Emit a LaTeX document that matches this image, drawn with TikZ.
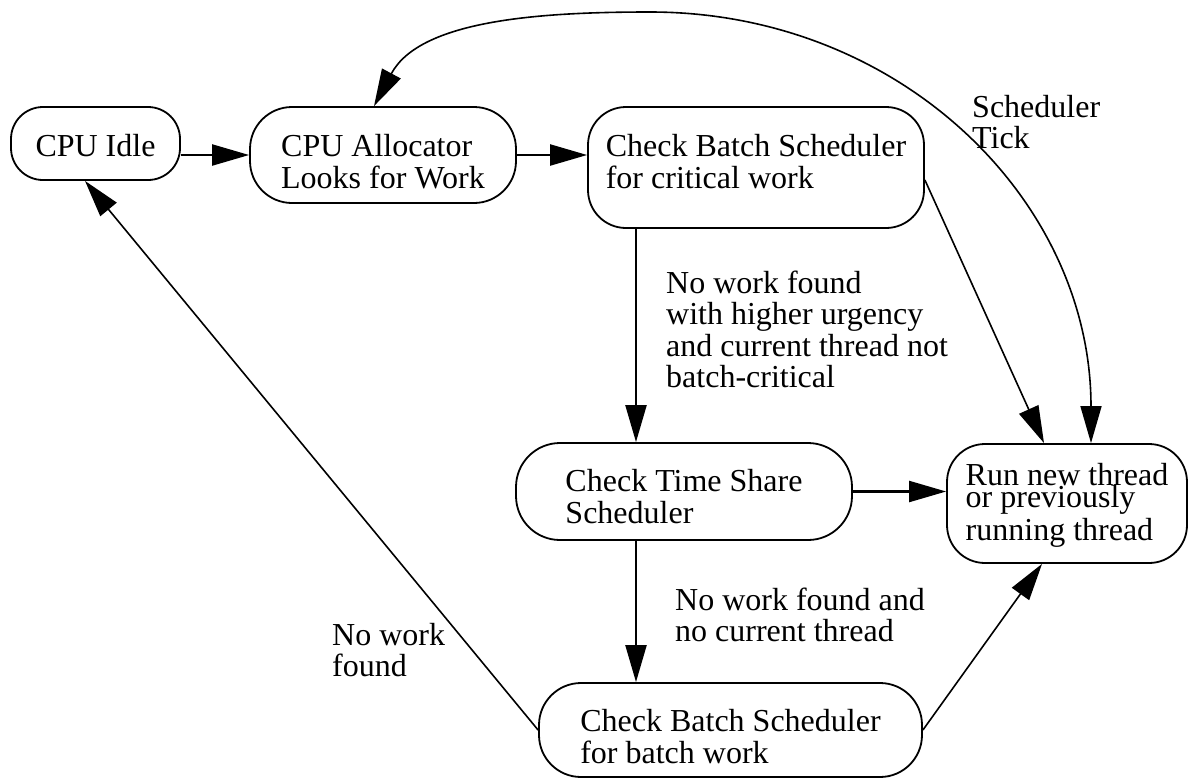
\documentclass[tikz,border=0pt]{standalone}
\usepackage{fontspec}
\setmainfont{Liberation Serif}
\usepackage{array}
\usetikzlibrary{arrows.meta}
\newcommand{\tl}[1]{\begin{tabular}[t]{@{}l@{}}#1\end{tabular}}
\begin{document}
\begin{tikzpicture}[x=1pt,y=-1pt,
  box/.style={draw,line width=1.8pt,inner sep=0pt,font=\fontsize{32}{32}\selectfont},
  lbl/.style={inner sep=0pt,anchor=base west,font=\fontsize{32}{31}\selectfont},
  arr/.style={line width=2.2pt,-{Triangle[length=37pt,width=21pt]}},
  darr/.style={line width=1.6pt,-{Triangle[length=37pt,width=21pt]}},
  curvearr/.style={line width=1.6pt,{Triangle[length=37pt,width=21pt]}-{Triangle[length=37pt,width=21pt]}}]
\useasboundingbox (0,0) rectangle (1189,777);

\node[box,minimum width=169pt,minimum height=73pt,rounded corners=32pt,text height=30pt,text depth=5pt] (idle) at (95.5,143.5) {\tl{CPU Idle}};
\node[box,minimum width=266pt,minimum height=96pt,rounded corners=42pt,text height=30pt,text depth=28pt] (alloc) at (383,155) {\tl{CPU Allocator\\Looks for Work}};
\node[box,minimum width=336pt,minimum height=121pt,rounded corners=38pt,text height=30pt,text depth=53pt] (crit) at (756,167.5) {\tl{Check Batch Scheduler\\for critical work}};
\node[box,minimum width=336pt,minimum height=97pt,rounded corners=44pt,text height=30pt,text depth=30pt] (ts) at (684,491.5) {\tl{Check Time Share\\Scheduler}};
\node[box,minimum width=240pt,minimum height=119pt,rounded corners=38pt,text height=30pt,text depth=67pt] (run) at (1067,503.5) {\tl{Run new thread\\[-10pt]or previously\\[1pt]running thread}};
\node[box,minimum width=383pt,minimum height=94pt,rounded corners=42pt,text height=30pt,text depth=27pt] (batch) at (730.5,730) {\tl{Check Batch Scheduler\\for batch work}};

\node[lbl,font=\fontsize{32}{30}\selectfont] (ticklbl) at (972,117) {\tl{Scheduler\\Tick}};
\node[lbl] (critlbl) at (666,293) {\tl{No work found\\with higher urgency\\and current thread not\\batch-critical}};
\node[lbl] (tslbl) at (675,610) {\tl{No work found and\\no current thread}};
\node[lbl] (idlelbl) at (332,645) {\tl{No work\\found}};

\draw[arr] (idle.east |- alloc.west) -- (alloc.west);
\draw[arr] (alloc.east) -- (crit.west |- alloc.east);
\draw[arr] ([xshift=-48pt]crit.south -| ts.north) -- ([xshift=-48pt]ts.north);
\draw[arr] ([xshift=-48pt]ts.south) -- ([xshift=-48pt]batch.north -| ts.south);
\draw[arr] (ts.east) -- (run.west |- ts.east);
\draw[darr] ([yshift=-12.5pt]crit.east) -- ([xshift=-23pt]run.north);
\draw[darr] (batch.east) -- ([xshift=-25pt]run.south);
\draw[darr] (batch.west) -- ([xshift=-10.5pt]idle.south);
\draw[curvearr] ([xshift=-9pt]alloc.north) .. controls (420,20) and (540,12) .. (650,12)
  .. controls (900,12) and (1091,200) .. ([xshift=24pt]run.north);
\end{tikzpicture}
\end{document}
